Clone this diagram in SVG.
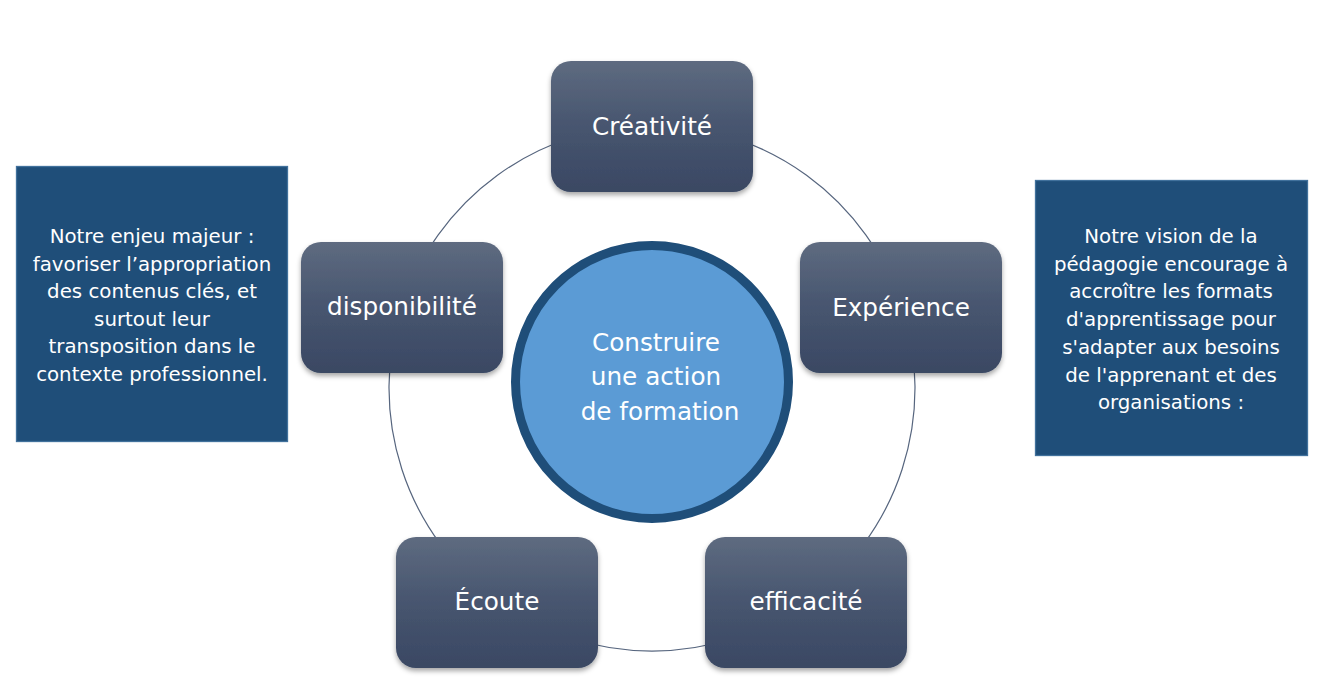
<svg xmlns="http://www.w3.org/2000/svg" width="1319" height="687" viewBox="0 0 1319 687">
<defs>
<linearGradient id="ng" x1="0" y1="0" x2="0" y2="1">
<stop offset="0" stop-color="#5e6b80"/>
<stop offset="0.5" stop-color="#47556f"/>
<stop offset="1" stop-color="#3a4863"/>
</linearGradient>
<filter id="sh" x="-10%" y="-10%" width="120%" height="130%">
<feDropShadow dx="0" dy="3" stdDeviation="2.5" flood-color="#000" flood-opacity="0.35"/>
</filter>
</defs>
<style>
.node rect{fill:url(#ng);filter:url(#sh)}
.lbl{font-family:"DejaVu Sans",Verdana,sans-serif;font-size:24.7px;fill:#fff;text-anchor:middle}
.box rect{fill:#1f4e79;stroke:#41719c;stroke-width:1.3}
.bt{font-family:"DejaVu Sans",Verdana,sans-serif;font-size:19.8px;fill:#fff;text-anchor:middle}
.ring{fill:none;stroke:#56657e;stroke-width:1.2}
</style>
<rect width="1319" height="687" fill="#fff"/>
<g id="connectors">
<path class="ring" d="M652,125 A263,263 0 0,1 902.1,306.7"/>
<path class="ring" d="M902.1,306.7 A263,263 0 0,1 806.6,600.8"/>
<path class="ring" d="M806.6,600.8 A263,263 0 0,1 497.4,600.8"/>
<path class="ring" d="M497.4,600.8 A263,263 0 0,1 401.9,306.7"/>
<path class="ring" d="M401.9,306.7 A263,263 0 0,1 652,125"/>
</g>
<g id="center">
<circle cx="652" cy="382" r="136.5" fill="#5b9bd5" stroke="#1f4e79" stroke-width="9"/>
<text class="lbl" x="656" y="351">Construire</text>
<text class="lbl" x="656" y="385">une action</text>
<text class="lbl" x="660" y="420">de formation</text>
</g>
<g id="creativite" class="node">
<rect x="551" y="61" width="202" height="131" rx="20"/>
<text class="lbl" x="652" y="135">Créativité</text>
</g>
<g id="experience" class="node">
<rect x="800" y="242" width="202" height="131" rx="20"/>
<text class="lbl" x="901" y="316">Expérience</text>
</g>
<g id="efficacite" class="node">
<rect x="705" y="537" width="202" height="131" rx="20"/>
<text class="lbl" x="806" y="610">efficacité</text>
</g>
<g id="ecoute" class="node">
<rect x="396" y="537" width="202" height="131" rx="20"/>
<text class="lbl" x="497" y="610">Écoute</text>
</g>
<g id="disponibilite" class="node">
<rect x="301" y="242" width="202" height="131" rx="20"/>
<text class="lbl" x="402" y="315">disponibilité</text>
</g>
<g id="enjeu" class="box">
<rect x="16.5" y="166.5" width="271" height="275"/>
<text class="bt" x="152" y="243">Notre enjeu majeur :</text>
<text class="bt" x="152" y="270.5">favoriser l’appropriation</text>
<text class="bt" x="152" y="298">des contenus clés, et</text>
<text class="bt" x="152" y="325.5">surtout leur</text>
<text class="bt" x="152" y="353">transposition dans le</text>
<text class="bt" x="152" y="380.5">contexte professionnel.</text>
</g>
<g id="vision" class="box">
<rect x="1035.5" y="180.5" width="272" height="275"/>
<text class="bt" x="1171" y="243">Notre vision de la</text>
<text class="bt" x="1171" y="270.7">pédagogie encourage à</text>
<text class="bt" x="1171" y="298.4">accroître les formats</text>
<text class="bt" x="1171" y="326.1">d'apprentissage pour</text>
<text class="bt" x="1171" y="353.8">s'adapter aux besoins</text>
<text class="bt" x="1171" y="381.5">de l'apprenant et des</text>
<text class="bt" x="1171" y="409.2">organisations :</text>
</g>
</svg>
